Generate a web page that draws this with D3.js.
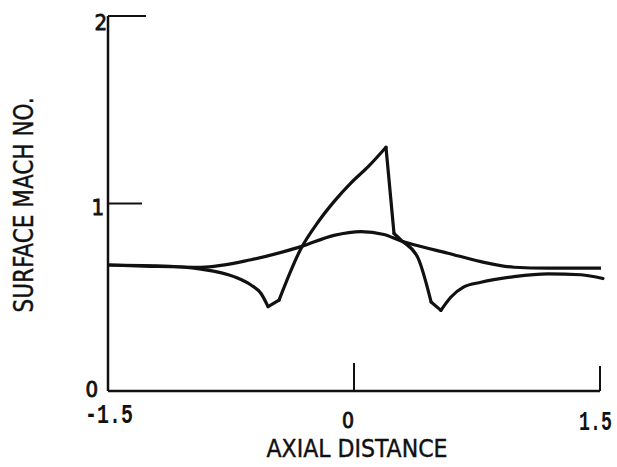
<!DOCTYPE html>
<html>
<head>
<meta charset="utf-8">
<script src="https://cdn.jsdelivr.net/npm/d3@7"></script>
<style>
  body { margin: 0; background: #fff; }
  svg { display: block; }
</style>
</head>
<body>
<div id="chart"></div>
<script>
// values
var xTicks = [-1.5, 0, 1.5];
var xTickLabels = ["-1.5", "0", "1.5"];
var yTicks = [0, 1, 2];
var yTickLabels = ["0", "1", "2"];

// smooth curve (broad bump)
var smoothX = [-1.494, -1.238, -0.933, -0.628, -0.323, -0.122, 0.043, 0.183, 0.287, 0.366, 0.573, 0.774, 0.976, 1.183, 1.384, 1.506];
var smoothY = [0.672, 0.665, 0.660, 0.700, 0.770, 0.830, 0.850, 0.835, 0.800, 0.780, 0.735, 0.690, 0.660, 0.655, 0.655, 0.655];

// shocked curve (dips and peak)
var shockX = [-1.494, -1.20, -0.933, -0.732, -0.628, -0.567, -0.524, -0.457, -0.323, -0.220, -0.122, -0.018, 0.085, 0.195, 0.244, 0.287, 0.390, 0.470, 0.530, 0.590, 0.670, 0.774, 0.976, 1.183, 1.384, 1.518];
var shockY = [0.672, 0.668, 0.650, 0.610, 0.565, 0.520, 0.450, 0.485, 0.760, 0.900, 1.010, 1.110, 1.195, 1.300, 0.840, 0.805, 0.710, 0.475, 0.430, 0.500, 0.555, 0.580, 0.610, 0.625, 0.620, 0.600];
// indices where the shocked curve has a corner
var shockCorners = [6, 7, 13, 14, 17, 18];

var w = 617, h = 467;
var svg = d3.select("#chart").append("svg")
    .attr("width", w)
    .attr("height", h);

var x = d3.scaleLinear().domain([-1.5, 1.5]).range([108, 600]);
var y = d3.scaleLinear().domain([0, 2]).range([391, 16]);

var ink = "#111";

// axis frame
svg.append("line")
    .attr("x1", x(-1.5)).attr("x2", x(-1.5))
    .attr("y1", y(0)).attr("y2", y(2))
    .attr("stroke", ink).attr("stroke-width", 2.5);
svg.append("line")
    .attr("x1", x(-1.5)).attr("x2", x(1.5))
    .attr("y1", y(0)).attr("y2", y(0))
    .attr("stroke", ink).attr("stroke-width", 2.5);

// y ticks point inward
svg.selectAll(".ytick").data(yTicks.filter(function(d){ return d > 0; }))
  .enter().append("line")
    .attr("x1", x(-1.5)).attr("x2", function(d){ return x(-1.5) + (d == 2 ? 38 : 34); })
    .attr("y1", function(d){ return y(d); })
    .attr("y2", function(d){ return y(d); })
    .attr("stroke", ink).attr("stroke-width", 2);

// x ticks point up
svg.selectAll(".xtick").data(xTicks.filter(function(d){ return d > -1.5; }))
  .enter().append("line")
    .attr("x1", function(d){ return x(d); })
    .attr("x2", function(d){ return x(d); })
    .attr("y1", y(0)).attr("y2", function(d){ return y(0) - (d == 0 ? 28 : 25); })
    .attr("stroke", ink).attr("stroke-width", 2);

var font = "'DejaVu Sans Condensed', 'DejaVu Sans', sans-serif";
var mono = "'Liberation Mono', 'DejaVu Sans Mono', monospace";

svg.selectAll(".ylab").data(yTicks)
  .enter().append("text")
    .attr("x", function(d){ return d == 0 ? 98 : (d == 1 ? 104 : 107); })
    .attr("y", function(d){ return d == 0 ? 397 : (d == 1 ? 215 : 30); })
    .attr("text-anchor", "end")
    .attr("font-family", font)
    .attr("font-size", 22)
    .attr("fill", ink)
    .attr("stroke", ink).attr("stroke-width", 0.8)
    .text(function(d, i){ return yTickLabels[i]; });

// -1.5 and 1.5 are typed in a narrow, tall mono face
svg.selectAll(".xlab").data(xTicks)
  .enter().append("text")
    .attr("transform", function(d){
      if (d == 0) return "translate(342,428)";
      if (d == -1.5) return "translate(85,423) scale(0.95,1.3)";
      return "translate(579,430) scale(0.87,1.3)";
    })
    .attr("font-family", function(d){ return d == 0 ? font : mono; })
    .attr("font-weight", function(d){ return d == 0 ? "normal" : "bold"; })
    .attr("font-size", function(d){ return d == 0 ? 21 : 21; })
    .attr("fill", ink)
    .attr("stroke", ink).attr("stroke-width", function(d){ return d == 0 ? 0.8 : 0; })
    .text(function(d, i){ return xTickLabels[i]; });

svg.append("text")
    .attr("x", 357).attr("y", 457)
    .attr("text-anchor", "middle")
    .attr("font-family", font)
    .attr("font-size", 25)
    .attr("textLength", 181)
    .attr("lengthAdjust", "spacingAndGlyphs")
    .attr("fill", ink)
    .attr("stroke", ink).attr("stroke-width", 0.4)
    .text("AXIAL DISTANCE");

svg.append("text")
    .attr("transform", "translate(33,205) rotate(-90)")
    .attr("text-anchor", "middle")
    .attr("font-family", font)
    .attr("font-size", 27)
    .attr("textLength", 215)
    .attr("lengthAdjust", "spacingAndGlyphs")
    .attr("fill", ink)
    .attr("stroke", ink).attr("stroke-width", 0.4)
    .text("SURFACE MACH NO.");

var line = d3.line()
    .x(function(d){ return x(d[0]); })
    .y(function(d){ return y(d[1]); })
    .curve(d3.curveMonotoneX);

var smooth = d3.zip(smoothX, smoothY);
var shock = d3.zip(shockX, shockY);

svg.append("path").datum(smooth)
    .attr("d", line)
    .attr("fill", "none").attr("stroke", ink)
    .attr("stroke-width", 3.2).attr("stroke-linejoin", "round");

// the shocked curve is drawn piecewise so that its corners stay sharp
var cuts = [0].concat(shockCorners, [shock.length - 1]);
var pieces = [];
for (var i = 0; i < cuts.length - 1; i++) {
  pieces.push(shock.slice(cuts[i], cuts[i + 1] + 1));
}
svg.selectAll(".shock").data(pieces)
  .enter().append("path")
    .attr("d", line)
    .attr("fill", "none").attr("stroke", ink)
    .attr("stroke-width", 3.2).attr("stroke-linecap", "round");
</script>
</body>
</html>
